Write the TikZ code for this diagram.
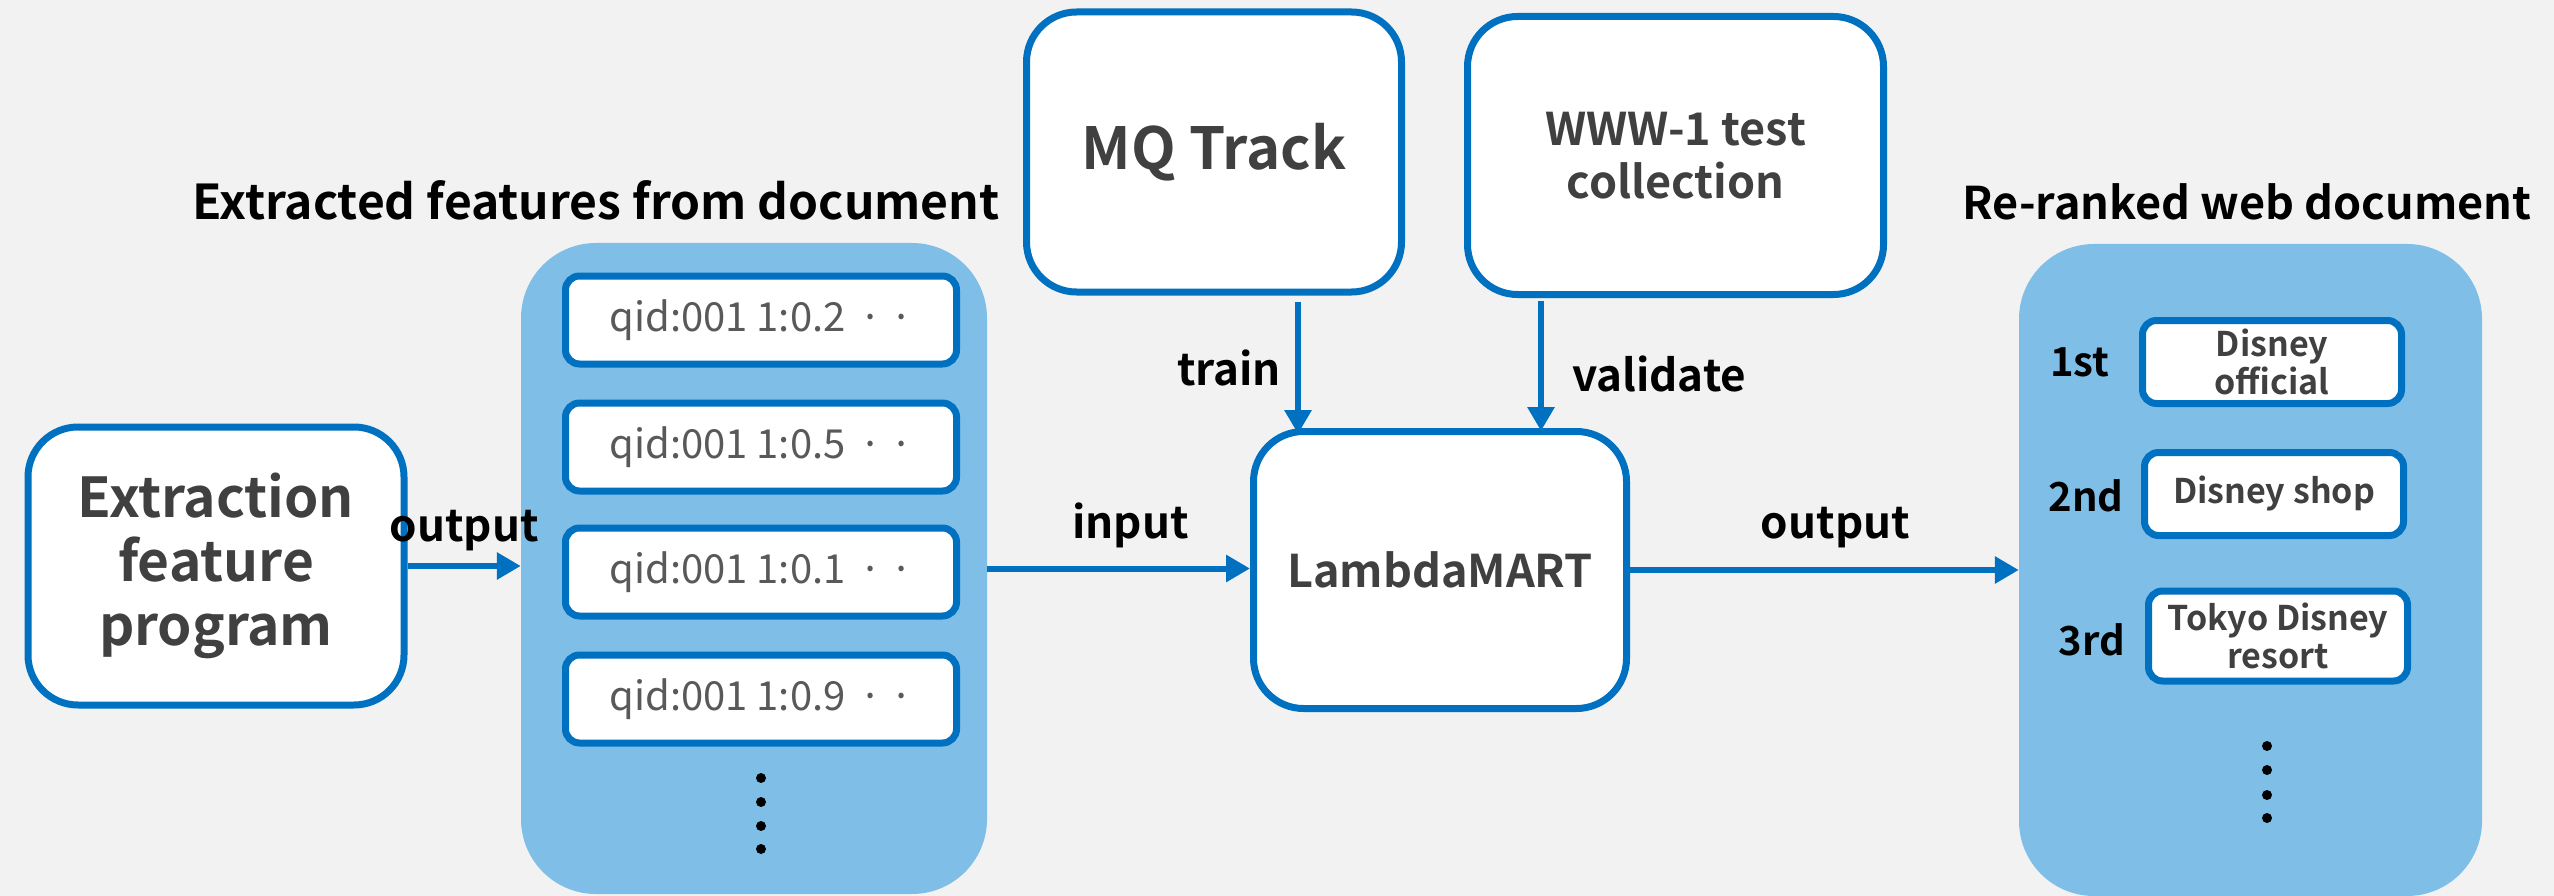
\documentclass[tikz,border=0pt]{standalone}
\usepackage{fontspec}
\setmainfont{Noto Sans CJK JP}[BoldFont={Noto Sans CJK JP Bold}]
\usetikzlibrary{arrows.meta}
\definecolor{bordblue}{HTML}{0070C0}
\definecolor{panelblue}{HTML}{7FBFE7}
\definecolor{bggray}{HTML}{F2F2F2}
\definecolor{txtgray}{HTML}{404040}
\definecolor{qidgray}{HTML}{595959}
\tikzset{
	bigbox/.style={draw=bordblue, fill=white, line width=7pt, rounded corners=50pt, inner sep=0pt, align=center, text=txtgray},
	featbox/.style={draw=bordblue, fill=white, line width=7pt, rounded corners=14pt, minimum width=391pt, minimum height=88pt, inner sep=0pt, text=qidgray, font=\fontsize{40}{48}\selectfont},
	rankbox/.style={draw=bordblue, fill=white, line width=7pt, rounded corners=14pt, minimum width=259pt, minimum height=83pt, inner sep=0pt, align=center, text=txtgray, font=\bfseries\fontsize{34}{38}\selectfont},
	panel/.style={fill=panelblue, rounded corners=75pt, inner sep=0pt},
	flow/.style={draw=bordblue, line width=6pt, -{Triangle[length=24pt,width=26pt]}},
	lbl/.style={inner sep=0pt, font=\bfseries\fontsize{44}{52}\selectfont},
	rank/.style={inner sep=0pt, font=\bfseries\fontsize{40}{48}\selectfont},
	ttl/.style={inner sep=0pt, font=\bfseries\fontsize{48}{58}\selectfont},
}
\begin{document}
\begin{tikzpicture}[x=1pt, y=-1pt]
	\path[use as bounding box, fill=bggray] (0,0) rectangle (2554,896);
	% panels
	\node[panel, minimum width=466pt, minimum height=651pt] (fl) at (754,568.5) {};
	\node[panel, minimum width=463pt, minimum height=652pt] (fr) at (2250.5,570) {};
	\node[ttl] (tl) at (596,200) {Extracted features from document};
	\node[ttl, font=\bfseries\fontsize{45}{54}\selectfont] (tr) at (2247,202) {Re-ranked web document};
	% boxes
	\node[bigbox, minimum width=376pt, minimum height=278pt, font=\bfseries\fontsize{55}{64}\selectfont] (ext) at (216,566) {Extraction\\feature\\program};
	\node[bigbox, minimum width=375pt, minimum height=280pt, font=\bfseries\fontsize{58}{68}\selectfont] (mq) at (1214,152) {MQ Track};
	\node[bigbox, minimum width=416pt, minimum height=278pt, font=\bfseries\fontsize{45}{53}\selectfont] (www) at (1675.5,155.5) {WWW-1 test\\collection};
	\node[bigbox, minimum width=373pt, minimum height=277pt, font=\bfseries\fontsize{45}{53}\selectfont] (lm) at (1440,570) {LambdaMART};
	\foreach \v/\y [count=\i] in {0.2/320,0.5/447,0.1/572,0.9/699}
		\node[featbox] (f\i) at (761,\y) {qid:001 1:\v\hspace{0.35em}·\hspace{0.2em}·};
	\node[rankbox] (r1) at (2272,362) {Disney\\official};
	\node[rankbox] (r2) at (2274,494) {Disney shop};
	\node[rankbox, minimum height=90pt] (r3) at (2278,636) {Tokyo Disney\\resort};
	\node[rank] (n1) at (2080,362) {1st};
	\node[rank] (n2) at (2086,496) {2nd};
	\node[rank] (n3) at (2092,640) {3rd};
	\foreach \y in {778,802,826,849} \fill (761,\y) circle (5pt);
	\foreach \y in {746,770,795,818} \fill (2267,\y) circle (5pt);
	% arrows
	\draw[flow] (ext.east) -- (ext.east -| fl.west) node[lbl, midway, above=12pt] {output};
	\draw[flow] (fl.east) -- (fl.east -| lm.west) node[lbl, midway, above=18pt, xshift=12pt] {input};
	\draw[flow] (lm.east) -- (lm.east -| fr.west) node[lbl, midway, above=19pt, xshift=11pt] {output};
	\draw[flow] ([shift={(84,6)}]mq.south) -- ([shift={(84,6)}]mq.south |- lm.north) node[lbl, midway, left=14pt] {train};
	\draw[flow] ([shift={(-134.5,3)}]www.south) -- ([shift={(-134.5,3)}]www.south |- lm.north) node[lbl, pos=0.56, right=28pt] {validate};
\end{tikzpicture}
\end{document}
